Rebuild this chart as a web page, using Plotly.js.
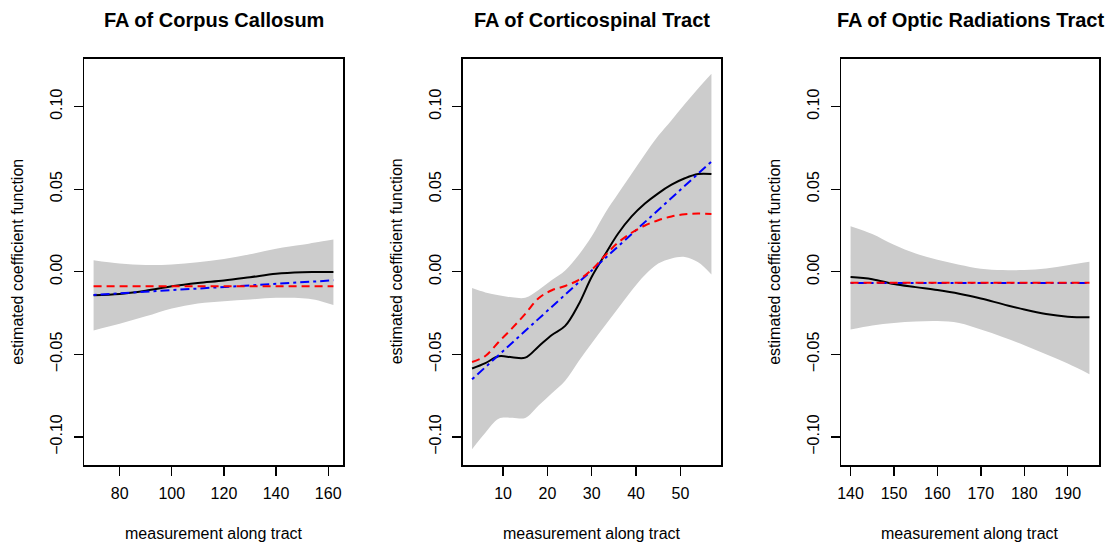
<!DOCTYPE html>
<html>
<head>
<meta charset="utf-8">
<script src="https://cdn.plot.ly/plotly-3.0.1.min.js"></script>
<style>
  html, body { margin: 0; padding: 0; background: #ffffff; }
  #chart { width: 1108px; height: 546px; }
</style>
</head>
<body>
<div id="chart"></div>
<script>
// ---------- Panel 1: Corpus Callosum ----------
const ccX      = [70, 80, 90, 100, 110, 120, 130, 140, 150, 155, 162];
const ccUpper  = [0.0070, 0.0050, 0.0041, 0.0044, 0.0058, 0.0078, 0.0106, 0.0140, 0.0163, 0.0177, 0.0196];
const ccLower  = [-0.0355, -0.0315, -0.0270, -0.0222, -0.0192, -0.0178, -0.0168, -0.0158, -0.0160, -0.0170, -0.0202];
const ccEst    = [-0.0142, -0.0135, -0.0115, -0.0088, -0.0068, -0.0053, -0.0033, -0.0012, -0.0003, -0.0002, -0.0002];
const ccRedX   = [70, 162];
const ccRed    = [-0.0088, -0.0088];
const ccBlueX  = [70, 162];
const ccBlue   = [-0.0140, -0.0052];

// ---------- Panel 2: Corticospinal Tract ----------
const ctX      = [3, 6, 9, 12, 15, 18, 21, 24, 27, 30, 33, 36, 39, 42, 45, 48, 51, 54, 57];
const ctUpper  = [-0.0099, -0.0125, -0.0142, -0.0155, -0.0158, -0.0110, -0.0050, 0.0008, 0.0100, 0.0215, 0.0355, 0.0475, 0.0593, 0.0711, 0.0823, 0.0918, 0.1016, 0.1110, 0.1199];
const ctLower  = [-0.1074, -0.0975, -0.0890, -0.0884, -0.0885, -0.0810, -0.0735, -0.0660, -0.0543, -0.0433, -0.0326, -0.0220, -0.0114, -0.0020, 0.0050, 0.0081, 0.0090, 0.0058, -0.0016];
const ctEst    = [-0.0586, -0.0553, -0.0512, -0.0518, -0.0520, -0.0452, -0.0383, -0.0328, -0.0200, -0.0030, 0.0105, 0.0233, 0.0335, 0.0413, 0.0475, 0.0527, 0.0566, 0.0592, 0.0592];
const ctRed    = [-0.0546, -0.0510, -0.0425, -0.0343, -0.0255, -0.0160, -0.0112, -0.0086, -0.0050, 0.0012, 0.0098, 0.0178, 0.0236, 0.0280, 0.0312, 0.0335, 0.0348, 0.0352, 0.0350];
const ctBlueX  = [3, 30, 57];
const ctBlue   = [-0.0651, 0.0008, 0.0667];

// ---------- Panel 3: Optic Radiations Tract ----------
const orX      = [140, 145, 150, 155, 160, 165, 170, 175, 180, 185, 190, 195];
const orUpper  = [0.0276, 0.0229, 0.0163, 0.0110, 0.0072, 0.0042, 0.0018, 0.0010, 0.0010, 0.0019, 0.0039, 0.0060];
const orLower  = [-0.0349, -0.0325, -0.0310, -0.0301, -0.0298, -0.0310, -0.0350, -0.0395, -0.0445, -0.0500, -0.0556, -0.0620];
const orEst    = [-0.0032, -0.0045, -0.0074, -0.0093, -0.0111, -0.0133, -0.0162, -0.0196, -0.0229, -0.0256, -0.0272, -0.0276];
const orRedX   = [140, 195];
const orRed    = [-0.0067, -0.0067];
const orBlueX  = [140, 195];
const orBlue   = [-0.0068, -0.0068];

// ---------- Text ----------
const panelTitles = ["FA of Corpus Callosum", "FA of Corticospinal Tract", "FA of Optic Radiations Tract"];
const xAxisTitle = "measurement along tract";
const yAxisTitle = "estimated coefficient function";
const xTicks = [[80, 100, 120, 140, 160], [10, 20, 30, 40, 50], [140, 150, 160, 170, 180, 190]];
const yTickVals = [-0.10, -0.05, 0.00, 0.05, 0.10];
const yTickText = ["\u22120.10", "\u22120.05", "0.00", "0.05", "0.10"];

// ---------- Geometry ----------
const W = 1108, H = 546;
const boxes = [[84, 343], [462.5, 721], [841, 1099]];
const boxTop = 58.7, boxBottom = 465;
const xRanges = [[66.32, 165.68], [0.84, 59.16], [137.8, 197.2]];
const yRange = [-0.117, 0.129];

const FONT = '"Liberation Sans", Arial, Helvetica, sans-serif';
const BAND = '#cccccc';

function panelTraces(i, x, up, lo, est, rx, ry, bx, by) {
  const xa = i === 0 ? 'x' : 'x' + (i + 1);
  const ya = i === 0 ? 'y' : 'y' + (i + 1);
  return [
    {x: x, y: up, xaxis: xa, yaxis: ya, mode: 'lines', line: {width: 0, shape: 'spline', color: BAND}, hoverinfo: 'skip', showlegend: false},
    {x: x, y: lo, xaxis: xa, yaxis: ya, mode: 'lines', line: {width: 0, shape: 'spline', color: BAND}, fill: 'tonexty', fillcolor: BAND, hoverinfo: 'skip', showlegend: false},
    {x: x, y: est, xaxis: xa, yaxis: ya, mode: 'lines', line: {width: 2, color: '#000000', shape: 'spline'}, showlegend: false},
    {x: bx, y: by, xaxis: xa, yaxis: ya, mode: 'lines', line: {width: 2, color: '#0000ff', dash: '3px,4px,9px,4px', shape: 'spline'}, showlegend: false},
    {x: rx, y: ry, xaxis: xa, yaxis: ya, mode: 'lines', line: {width: 2, color: '#ff0000', dash: '8px,5px', shape: 'spline'}, showlegend: false}
  ];
}

const data = [].concat(
  panelTraces(0, ccX, ccUpper, ccLower, ccEst, ccRedX, ccRed, ccBlueX, ccBlue),
  panelTraces(1, ctX, ctUpper, ctLower, ctEst, ctX, ctRed, ctBlueX, ctBlue),
  panelTraces(2, orX, orUpper, orLower, orEst, orRedX, orRed, orBlueX, orBlue)
);

const layout = {
  width: W, height: H,
  margin: {l: 0, r: 0, t: 0, b: 0},
  paper_bgcolor: '#ffffff', plot_bgcolor: '#ffffff',
  font: {family: FONT, size: 16, color: '#000000'},
  showlegend: false,
  annotations: []
};

const yDom = [1 - boxBottom / H, 1 - boxTop / H];
for (let i = 0; i < 3; i++) {
  const sfx = i === 0 ? '' : String(i + 1);
  layout['xaxis' + sfx] = {
    domain: [boxes[i][0] / W, boxes[i][1] / W],
    anchor: 'y' + sfx,
    range: xRanges[i],
    tickmode: 'array', tickvals: xTicks[i], ticktext: xTicks[i].map(String),
    ticks: 'outside', ticklen: 9, tickwidth: 1.3, tickcolor: '#000000',
    ticklabelstandoff: 4,
    showline: true, mirror: true, linecolor: '#000000', linewidth: 1.5,
    showgrid: false, zeroline: false,
    tickfont: {family: FONT, size: 16, color: '#000000'}
  };
  layout['yaxis' + sfx] = {
    domain: yDom,
    anchor: 'x' + sfx,
    range: yRange,
    tickmode: 'array', tickvals: yTickVals, ticktext: yTickText,
    tickangle: -90,
    ticks: 'outside', ticklen: 9, tickwidth: 1.3, tickcolor: '#000000',
    ticklabelstandoff: 5,
    showline: true, mirror: true, linecolor: '#000000', linewidth: 1.5,
    showgrid: false, zeroline: false,
    tickfont: {family: FONT, size: 16, color: '#000000'}
  };
  const cx = (boxes[i][0] + boxes[i][1]) / 2;
  layout.annotations.push({
    text: '<b>' + panelTitles[i] + '</b>', xref: 'paper', yref: 'paper',
    x: cx / W, y: 1 - 20 / H, xanchor: 'center', yanchor: 'middle', showarrow: false,
    font: {family: FONT, size: 20, color: '#000000'}
  });
  layout.annotations.push({
    text: xAxisTitle, xref: 'paper', yref: 'paper',
    x: cx / W, y: 1 - 533 / H, xanchor: 'center', yanchor: 'middle', showarrow: false,
    font: {family: FONT, size: 16, color: '#000000'}
  });
  layout.annotations.push({
    text: yAxisTitle, xref: 'paper', yref: 'paper', textangle: -90,
    x: (boxes[i][0] - 66) / W, y: 1 - ((boxTop + boxBottom) / 2) / H, xanchor: 'center', yanchor: 'middle', showarrow: false,
    font: {family: FONT, size: 16, color: '#000000'}
  });
}

Plotly.newPlot('chart', data, layout, {displayModeBar: false, staticPlot: true});
</script>
</body>
</html>
